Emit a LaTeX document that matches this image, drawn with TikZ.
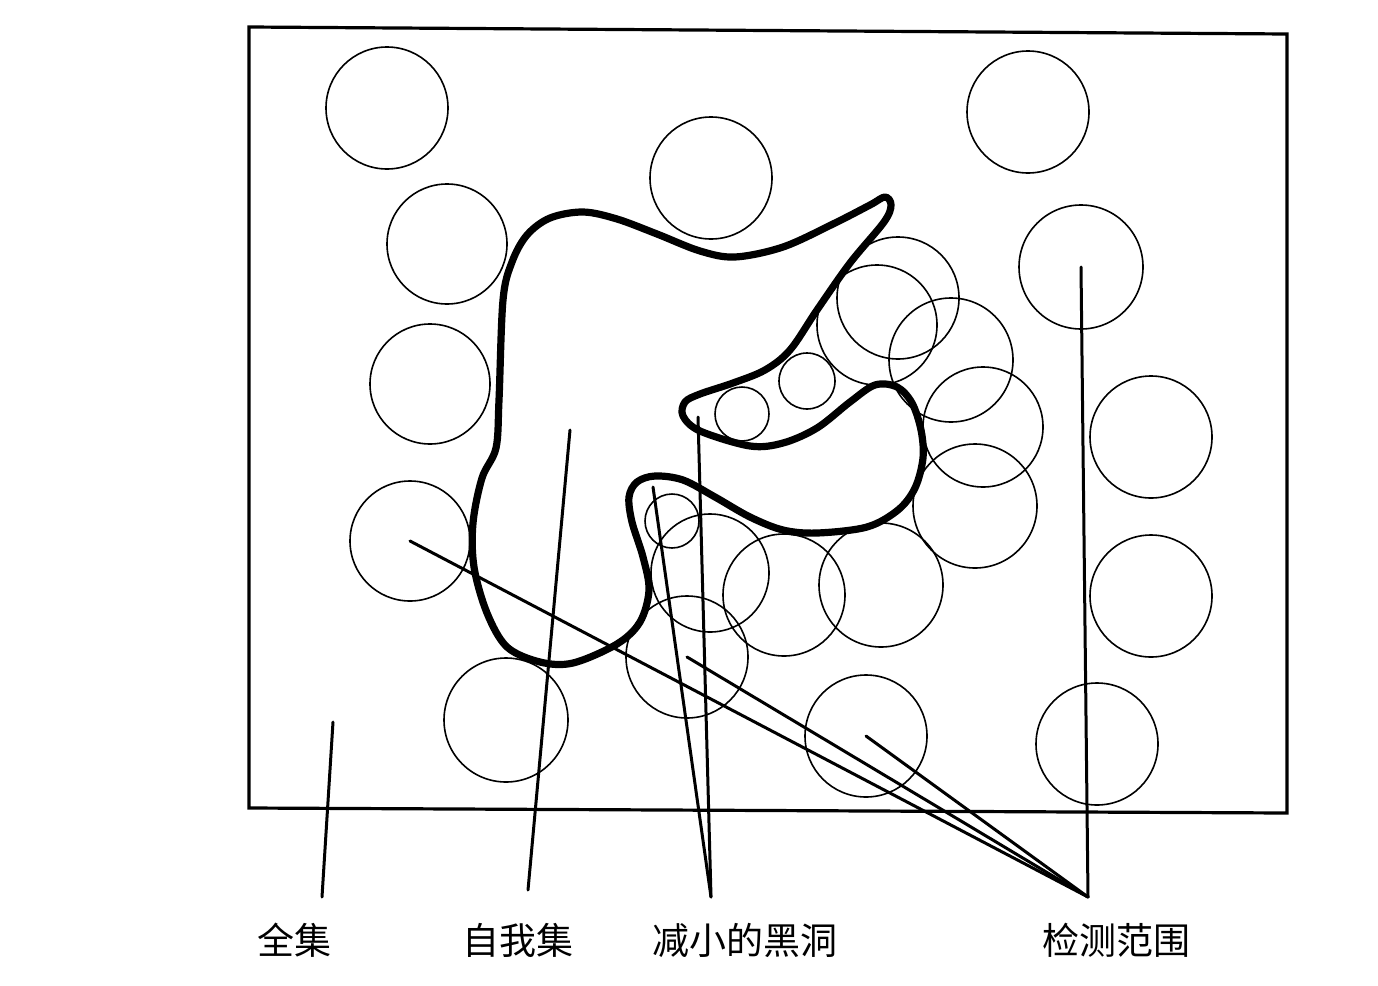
\documentclass[tikz,border=0pt]{standalone}
\usepackage{fontspec}
\newfontfamily\cjk{Noto Sans CJK SC}
\begin{document}
\begin{tikzpicture}[x=1pt,y=-1pt,
  ring/.style={draw,circle,inner sep=0pt,line width=1.6pt},
  leader/.style={line width=3pt,line cap=round},
  blob/.style={line width=7.2pt,line join=round},
  frame/.style={line width=3.2pt,line join=miter},
  lab/.style={font=\cjk\fontsize{37}{40}\selectfont,inner sep=0pt,anchor=base}]
\useasboundingbox (0,0) rectangle (1378,985);
\fill[white] (0,0) rectangle (1378,985);
% frame
\draw[frame] (249,27) -- (1287,34) -- (1287,813) -- (249,808) -- cycle;
% detection circles
\foreach \n/\x/\y/\r in {c1/387/108/61, c2/711/178/61, c3/1028/112/61, c4/447/244/60,
  c5/430/384/60, c6/410/541/60, c7/1081/267/62, c8/1151/437/61, c9/1151/596/61,
  c10/1097/744/61, c11/506/720/62, c12/866/736/61, c13/687/657/61, c14/881/585/62,
  c15/784/595/61, c16/710/573/59, c17/898/298/61, c18/877/325/60, c19/951/360/62,
  c20/983/427/60, c21/975/506/62, s1/672/521/27, s2/742/414/27, s3/807/381/28}
  \node[ring,minimum size=2*\r pt] (\n) at (\x,\y) {};
% self set
\draw[blob] plot[smooth cycle,tension=0.55] coordinates {
 (503,300) (512,262) (527,235) (550,218) (583,212) (617,219) (657,234) (700,251)
 (735,257) (783,247) (833,224) (870,205) (885,197) (891,205) (884,222) (850,263)
 (817,310) (790,350) (765,370) (733,383) (700,394) (685,402) (683,416) (700,431)
 (750,446) (783,443) (817,428) (850,402) (875,385) (897,387) (912,403) (921,430)
 (923,458) (915,488) (898,510) (867,527) (817,533) (783,530) (750,517) (715,497)
 (683,480) (655,476) (637,482) (629,497) (632,522) (643,557) (649,590) (640,622)
 (617,644) (573,663) (540,662) (507,647) (487,613) (474,567) (473,523) (482,478)
 (496,448) (499,400)};
% labels
\node[lab] (lq) at (294,954) {全集};
\node[lab] (lz) at (518,954) {自我集};
\node[lab] (lh) at (745,954) {减小的黑洞};
\node[lab] (lj) at (1116,954) {检测范围};
% leader lines
\coordinate (qtop) at (333,722);
\coordinate (qbot) at (322,897);
\coordinate (ztop) at (570,430);
\coordinate (zbot) at (528,890);
\coordinate (htop1) at (653,487);
\coordinate (htop2) at (698,417);
\coordinate (hbot) at (711,897);
\coordinate (jbot) at (1088,897);
\draw[leader] (qtop) -- (qbot);
\draw[leader] (ztop) -- (zbot);
\draw[leader] (htop1) -- (hbot);
\draw[leader] (htop2) -- (hbot);
\draw[leader] (c6.center) -- (jbot);
\draw[leader] (c13.center) -- (jbot);
\draw[leader] (c12.center) -- (jbot);
\draw[leader] (c7.center) -- (jbot);
\end{tikzpicture}
\end{document}
